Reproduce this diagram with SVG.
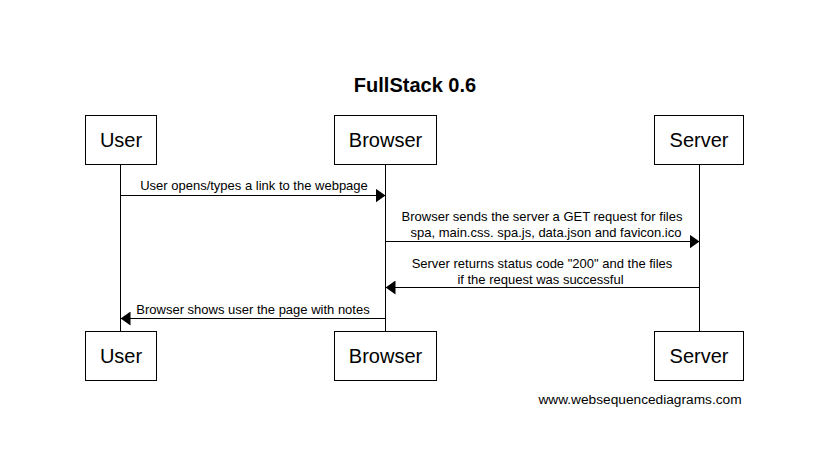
<svg xmlns="http://www.w3.org/2000/svg" width="826" height="475" viewBox="0 0 826 475">
<defs>
<style>
text{font-family:"Liberation Sans",Arial,sans-serif;fill:#000}
.title{font-size:20px;font-weight:bold;text-anchor:middle}
.actor{font-size:20px;text-anchor:middle}
.msg{font-size:13px;text-anchor:middle}
.foot{font-size:13.7px;text-anchor:middle}
.box{fill:#fff;stroke:#000;stroke-width:1}
.life{stroke:#000;stroke-width:1;fill:none}
.arrow{stroke:#000;stroke-width:1;fill:none}
</style>
<marker id="ah" viewBox="0 0 10 14" refX="10" refY="7" markerWidth="10" markerHeight="14" markerUnits="userSpaceOnUse" orient="auto">
<path d="M0,0 L10,7 L0,14 Z" fill="#000"/>
</marker>
</defs>
<rect width="826" height="475" fill="#fff"/>
<text class="title" x="415" y="92">FullStack 0.6</text>
<g id="lifelines">
<line class="life" x1="120.5" y1="164.5" x2="120.5" y2="331.5"/>
<line class="life" x1="385.5" y1="164.5" x2="385.5" y2="331.5"/>
<line class="life" x1="699.5" y1="164.5" x2="699.5" y2="331.5"/>
</g>
<g id="user-top"><rect class="box" x="85.5" y="115.5" width="71" height="49"/><text class="actor" x="121" y="147">User</text></g>
<g id="browser-top"><rect class="box" x="334.5" y="115.5" width="102" height="49"/><text class="actor" x="385.5" y="147">Browser</text></g>
<g id="server-top"><rect class="box" x="654.5" y="115.5" width="89" height="49"/><text class="actor" x="699" y="147">Server</text></g>
<g id="user-bottom"><rect class="box" x="85.5" y="331.5" width="71" height="49"/><text class="actor" x="121" y="363">User</text></g>
<g id="browser-bottom"><rect class="box" x="334.5" y="331.5" width="102" height="49"/><text class="actor" x="385.5" y="363">Browser</text></g>
<g id="server-bottom"><rect class="box" x="654.5" y="331.5" width="89" height="49"/><text class="actor" x="699" y="363">Server</text></g>
<g id="connectors">
<line class="arrow" x1="120.5" y1="195.5" x2="385.5" y2="195.5" marker-end="url(#ah)"/>
<text class="msg" x="254" y="190">User opens/types a link to the webpage</text>
<line class="arrow" x1="385.5" y1="241.5" x2="699.5" y2="241.5" marker-end="url(#ah)"/>
<text class="msg" x="542" y="221">Browser sends the server a GET request for files</text>
<text class="msg" x="546" y="237">spa, main.css. spa.js, data.json and favicon.ico</text>
<line class="arrow" x1="699.5" y1="287.5" x2="385.5" y2="287.5" marker-end="url(#ah)"/>
<text class="msg" x="542" y="268">Server returns status code "200" and the files</text>
<text class="msg" x="540.5" y="284">if the request was successful</text>
<line class="arrow" x1="385.5" y1="318.5" x2="120.5" y2="318.5" marker-end="url(#ah)"/>
<text class="msg" x="253" y="314">Browser shows user the page with notes</text>
</g>
<text class="foot" x="640" y="404">www.websequencediagrams.com</text>
</svg>
